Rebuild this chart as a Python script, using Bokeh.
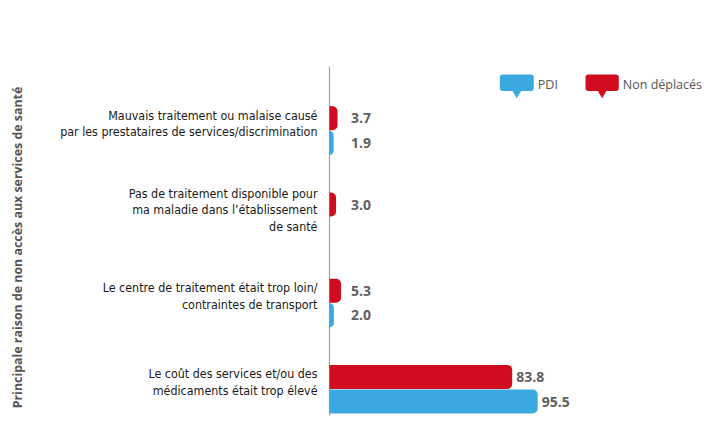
import math
from bokeh.plotting import figure
from bokeh.models import Range1d, ColumnDataSource
from bokeh.core.properties import value
from bokeh.embed import file_html
from bokeh.resources import INLINE

# ---- data ----
categories = [
    "Le coût des services et/ou des\nmédicaments était trop élevé",
    "Le centre de traitement était trop loin/\ncontraintes de transport",
    "Pas de traitement disponible pour\nma maladie dans l’établissement\nde santé",
    "Mauvais traitement ou malaise causé\npar les prestataires de services/discrimination",
]
non_deplaces = [83.8, 5.3, 3.0, 3.7]
pdi = [95.5, 2.0, None, 1.9]
series_names = ["PDI", "Non déplacés"]
axis_title = "Principale raison de non accès aux services de santé"

RED = "#D00C1E"
BLUE = "#3AA9DF"
GREY = "#5F5F5F"
CAT_FONT = "'DejaVu Sans Condensed', 'Liberation Sans Narrow', Lato"

W, H = 704, 425
SX = 2.18          # px per value unit
SY = 86.2          # px per category step
AXIS_PX = 329      # axis position (px from left)
BOTTOM_PX = 36.3   # distance of first category centre from plot bottom

x0 = -AXIS_PX / SX
y0 = -BOTTOM_PX / SY
p = figure(width=W, height=H, output_backend="svg", toolbar_location=None,
           x_range=Range1d(x0, x0 + W / SX), y_range=Range1d(y0, y0 + H / SY),
           min_border=0, min_border_left=0, min_border_right=0,
           min_border_top=0, min_border_bottom=0)
p.axis.visible = False
p.grid.visible = False
p.outline_line_color = None
p.background_fill_color = "white"


def dx(px):   # pixel x -> data x
    return x0 + px / SX


def dy(py):   # pixel y (from top) -> data y
    return y0 + (H - py) / SY


n = len(categories)
ys = list(range(n))
BH = 24 / SY     # bar thickness
off = 12.3 / SY

# axis line
p.segment(x0=[0], y0=[dy(415)], x1=[0], y1=[dy(66)], line_color="#A0A0A0", line_width=1.2)

# bars
rd = ColumnDataSource(dict(y=[y + off for y in ys], v=non_deplaces))
p.hbar(y="y", left=0, right="v", height=BH, source=rd, fill_color=RED, line_color=None,
       border_radius=(0, 5, 5, 0))
bl_y = [y - off for y, v in zip(ys, pdi) if v is not None]
bl_v = [v for v in pdi if v is not None]
bd = ColumnDataSource(dict(y=bl_y, v=bl_v))
p.hbar(y="y", left=0, right="v", height=BH, source=bd, fill_color=BLUE, line_color=None,
       border_radius=(0, 5, 5, 0))

# value labels
lab_y = [y + off for y in ys] + bl_y
lab_v = non_deplaces + bl_v
lab_x = [max(v, 8.0) for v in lab_v]
ls = ColumnDataSource(dict(x=lab_x, y=lab_y, t=[f"{v:.1f}" for v in lab_v]))
p.text(x="x", y="y", text="t", source=ls, x_offset=4, text_align="left",
       text_baseline="middle", text_font=value("Open Sans"), text_font_style="bold",
       text_font_size="14px", text_color=GREY)

# category labels
cs = ColumnDataSource(dict(x=[0] * n, y=ys, t=categories))
p.text(x="x", y="y", text="t", source=cs, x_offset=-12, y_offset=-7, text_align="right",
       text_baseline="middle", text_font=value(CAT_FONT),
       text_font_size="12.4px", text_color="#1a1a1a", text_line_height=1.1)

# axis title
p.text(x=[dx(17.3)], y=[dy(247)], text=[axis_title], angle=math.pi / 2,
       text_align="center", text_baseline="middle", text_font=value("Open Sans"),
       text_font_style="bold", text_font_size="12.4px", text_color="#555555")

# legend (speech-bubble icons)
leg = [(BLUE, 499.3, 533.3, series_names[0]), (RED, 585, 618.3, series_names[1])]
for col, l, r, name in leg:
    p.quad(left=[dx(l)], right=[dx(r)], top=[dy(74)], bottom=[dy(90.5)],
           fill_color=col, line_color=None, border_radius=3)
    cx = (l + r) / 2
    p.scatter(x=[dx(cx)], y=[dy(92.5)], marker="inverted_triangle", size=9,
              fill_color=col, line_color=None)
    p.text(x=[dx(r + 4)], y=[dy(83.5)], text=[name], text_align="left",
           text_baseline="middle", text_font=value("Open Sans"), text_font_size="12.5px",
           text_color="#555555")

open("out.html", "w").write(file_html(p, INLINE))
